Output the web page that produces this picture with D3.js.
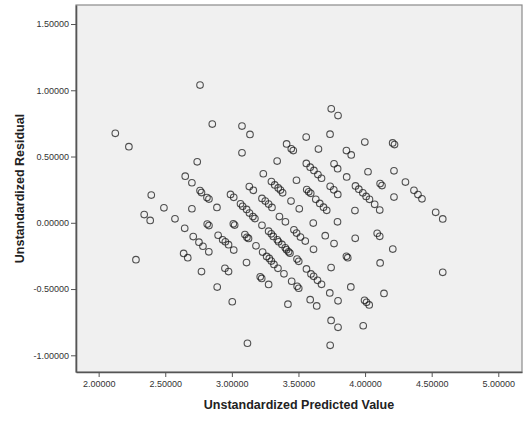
<html>
<head>
    <meta charset="utf-8">
    <script src="https://d3js.org/d3.v7.min.js"></script>
    <style>
        body { margin: 0; background: #fff; }
        text { font-family: Arial, "Liberation Sans", sans-serif; }
    </style>
</head>
<body>
<svg id="scatter" width=529 height=424></svg>

<script>
    // values
    const predicted = [
        2.125,2.227,2.761,2.853,3.076,3.136,3.076,2.740,2.650,2.700,
        2.761,2.772,2.813,2.828,2.395,2.490,2.700,2.888,2.342,2.387,
        2.573,2.646,2.815,2.828,2.710,2.753,2.783,2.827,2.897,2.280,
        2.638,2.669,2.772,2.890,3.003,3.117,2.931,2.951,2.975,3.014,
        3.011,3.021,2.948,2.975,3.110,3.098,3.113,3.125,3.181,3.226,
        3.231,3.213,3.224,3.276,3.261,3.281,3.296,3.316,3.346,3.391,
        3.276,3.296,3.311,3.341,3.351,3.376,3.401,3.411,3.426,3.436,
        3.466,3.486,3.515,3.551,3.701,3.767,3.613,3.489,3.502,3.560,
        3.594,3.614,3.643,3.673,3.745,3.449,3.490,3.502,3.421,3.588,
        3.637,3.735,3.797,3.745,3.797,3.738,3.986,3.996,4.011,4.031,
        4.142,3.893,4.113,3.860,3.870,4.208,3.926,4.091,4.110,4.583,
        4.583,4.530,3.611,3.793,3.357,3.402,3.924,4.110,4.072,4.217,
        4.367,4.397,4.427,4.303,4.113,4.127,3.928,3.953,3.983,4.008,
        4.033,4.022,4.217,3.862,3.767,3.794,3.860,3.896,3.998,4.207,
        4.221,3.746,3.797,3.737,3.558,3.650,3.411,3.446,3.461,3.340,
        3.236,3.559,3.588,3.616,3.646,3.673,3.485,3.297,3.322,3.348,
        3.365,3.381,3.562,3.577,3.592,3.738,3.765,3.795,3.444,3.506,
        3.630,3.660,3.688,3.712,3.226,3.251,3.276,3.301,3.065,3.081,
        3.111,3.132,3.158,3.173,2.990,3.014,3.131,3.161
    ];
    const residual = [
        0.675,0.574,1.039,0.745,0.730,0.667,0.528,0.460,0.352,0.302,
        0.243,0.228,0.190,0.179,0.209,0.113,0.106,0.116,0.062,0.018,
        0.030,-0.042,-0.010,-0.021,-0.104,-0.146,-0.177,-0.219,-0.094,-0.278,
        -0.231,-0.263,-0.368,-0.485,-0.596,-0.909,-0.128,-0.143,-0.165,-0.206,
        -0.008,-0.017,-0.343,-0.368,-0.300,-0.089,-0.110,-0.118,-0.174,-0.019,
        -0.221,-0.408,-0.420,-0.465,-0.254,-0.269,-0.289,-0.314,-0.344,-0.385,
        -0.063,-0.083,-0.103,-0.128,-0.143,-0.163,-0.189,-0.204,-0.219,-0.229,
        -0.053,-0.078,-0.108,-0.138,-0.097,-0.157,-0.200,-0.274,-0.291,-0.348,
        -0.386,-0.404,-0.434,-0.464,-0.338,-0.441,-0.479,-0.494,-0.614,-0.580,
        -0.627,-0.529,-0.589,-0.737,-0.789,-0.925,-0.777,-0.585,-0.600,-0.620,
        -0.533,-0.484,-0.303,-0.253,-0.263,-0.198,-0.117,-0.079,-0.102,-0.374,
        0.029,0.079,-0.002,0.007,0.047,0.007,0.092,0.096,0.139,0.194,
        0.245,0.213,0.181,0.307,0.296,0.281,0.278,0.254,0.226,0.199,
        0.177,0.385,0.392,0.346,0.445,0.408,0.545,0.512,0.609,0.603,
        0.590,0.860,0.809,0.669,0.647,0.556,0.595,0.558,0.545,0.466,
        0.370,0.448,0.420,0.395,0.364,0.336,0.321,0.311,0.286,0.263,
        0.247,0.226,0.251,0.234,0.222,0.275,0.249,0.214,0.164,0.105,
        0.177,0.146,0.118,0.094,0.184,0.164,0.141,0.116,0.143,0.124,
        0.101,0.073,0.047,0.032,0.214,0.192,0.273,0.245
    ];
    const xTicks = [2.0, 2.5, 3.0, 3.5, 4.0, 4.5, 5.0];
    const yTicks = [-1.0, -0.5, 0.0, 0.5, 1.0, 1.5];
    const xTitle = "Unstandardized Predicted Value";
    const yTitle = "Unstandardized Residual";

    const svg = d3.select("#scatter");

    // plot frame in pixels
    const frame = {left: 76, right: 522, top: 5, bottom: 372};

    const x = d3.scaleLinear().domain([1.83, 5.178]).range([frame.left, frame.right]);
    const y = d3.scaleLinear().domain([-1.126, 1.6435]).range([frame.bottom, frame.top]);

    // grey plot background
    svg.append("rect")
        .attr("x", frame.left).attr("y", frame.top)
        .attr("width", frame.right - frame.left).attr("height", frame.bottom - frame.top)
        .attr("fill", "#f0f0f0")
        .attr("stroke", "#8a8a8a")
        .attr("stroke-width", 1.2);

    // SPSS style labels with a plain hyphen for minus
    const fmt = d => d3.format(".5f")(d).replace("\u2212", "-");

    // x axis
    const xAxis = svg.append("g")
        .attr("transform", `translate(0,${frame.bottom})`)
        .call(d3.axisBottom(x).tickValues(xTicks).tickFormat(fmt).tickSizeInner(5).tickSizeOuter(0).tickPadding(4));

    // y axis
    const yAxis = svg.append("g")
        .attr("transform", `translate(${frame.left},0)`)
        .call(d3.axisLeft(y).tickValues(yTicks).tickFormat(fmt).tickSizeInner(5).tickSizeOuter(0).tickPadding(2));

    [xAxis, yAxis].forEach(g => {
        g.select(".domain").attr("stroke", "#555").attr("stroke-width", 1.6);
        g.selectAll(".tick line").attr("stroke", "#555");
        g.selectAll(".tick text")
            .attr("fill", "#333")
            .style("font-size", "9px")
            .style("font-family", "Arial, 'Liberation Sans', sans-serif");
    });

    // points as open circles
    svg.append("g").selectAll("circle")
        .data(predicted.map((p, i) => [p, residual[i]]))
        .join("circle")
        .attr("cx", d => x(d[0]))
        .attr("cy", d => y(d[1]))
        .attr("r", 3.3)
        .attr("fill", "none")
        .attr("stroke", "#1a1a1a")
        .attr("stroke-opacity", 0.75)
        .attr("stroke-width", 1.1);

    // axis titles
    svg.append("text")
        .attr("x", (frame.left + frame.right) / 2)
        .attr("y", 409)
        .attr("text-anchor", "middle")
        .style("font-size", "12.5px")
        .style("font-weight", "bold")
        .attr("fill", "#222")
        .text(xTitle);

    svg.append("text")
        .attr("transform", `translate(24,${(frame.top + frame.bottom) / 2}) rotate(-90)`)
        .attr("text-anchor", "middle")
        .style("font-size", "12.5px")
        .style("font-weight", "bold")
        .attr("fill", "#222")
        .text(yTitle);
</script>
</body>
</html>
